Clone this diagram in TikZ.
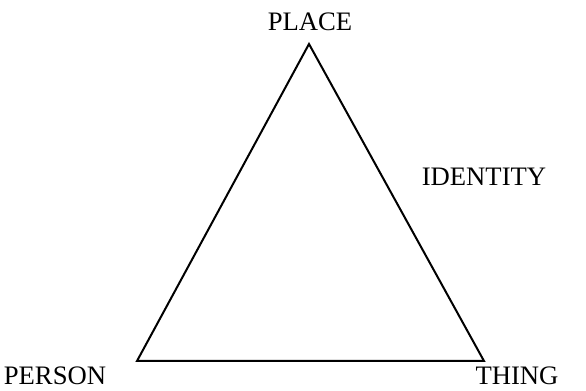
\documentclass[tikz,border=0pt]{standalone}
\usepackage{fontspec}
\setmainfont{Liberation Serif}

\begin{document}
\begin{tikzpicture}[
		x=0.75pt, y=-0.75pt,
		font=\fontsize{20}{24}\selectfont,
		corner/.style={inner sep=0pt, anchor=center},
		edge/.style={line width=1.5pt, line join=miter}
	]
		\useasboundingbox (0,0) rectangle (586,391);
		% vertices of the triangle
		\coordinate (top) at (309,44);
		\coordinate (left) at (137,361);
		\coordinate (right) at (484,361);
		% labels
		\node[corner] (lPlace) at (310,22) {PLACE};
		\node[corner] (lIdent) at (484,177) {IDENTITY};
		\node[corner] (lPerson) at (55,376) {PERSON};
		\node[corner] (lThing) at (517,376) {THING};
		% triangle
		\draw[edge] (top) -- (left) -- (right) -- cycle;
	\end{tikzpicture}
\end{document}
